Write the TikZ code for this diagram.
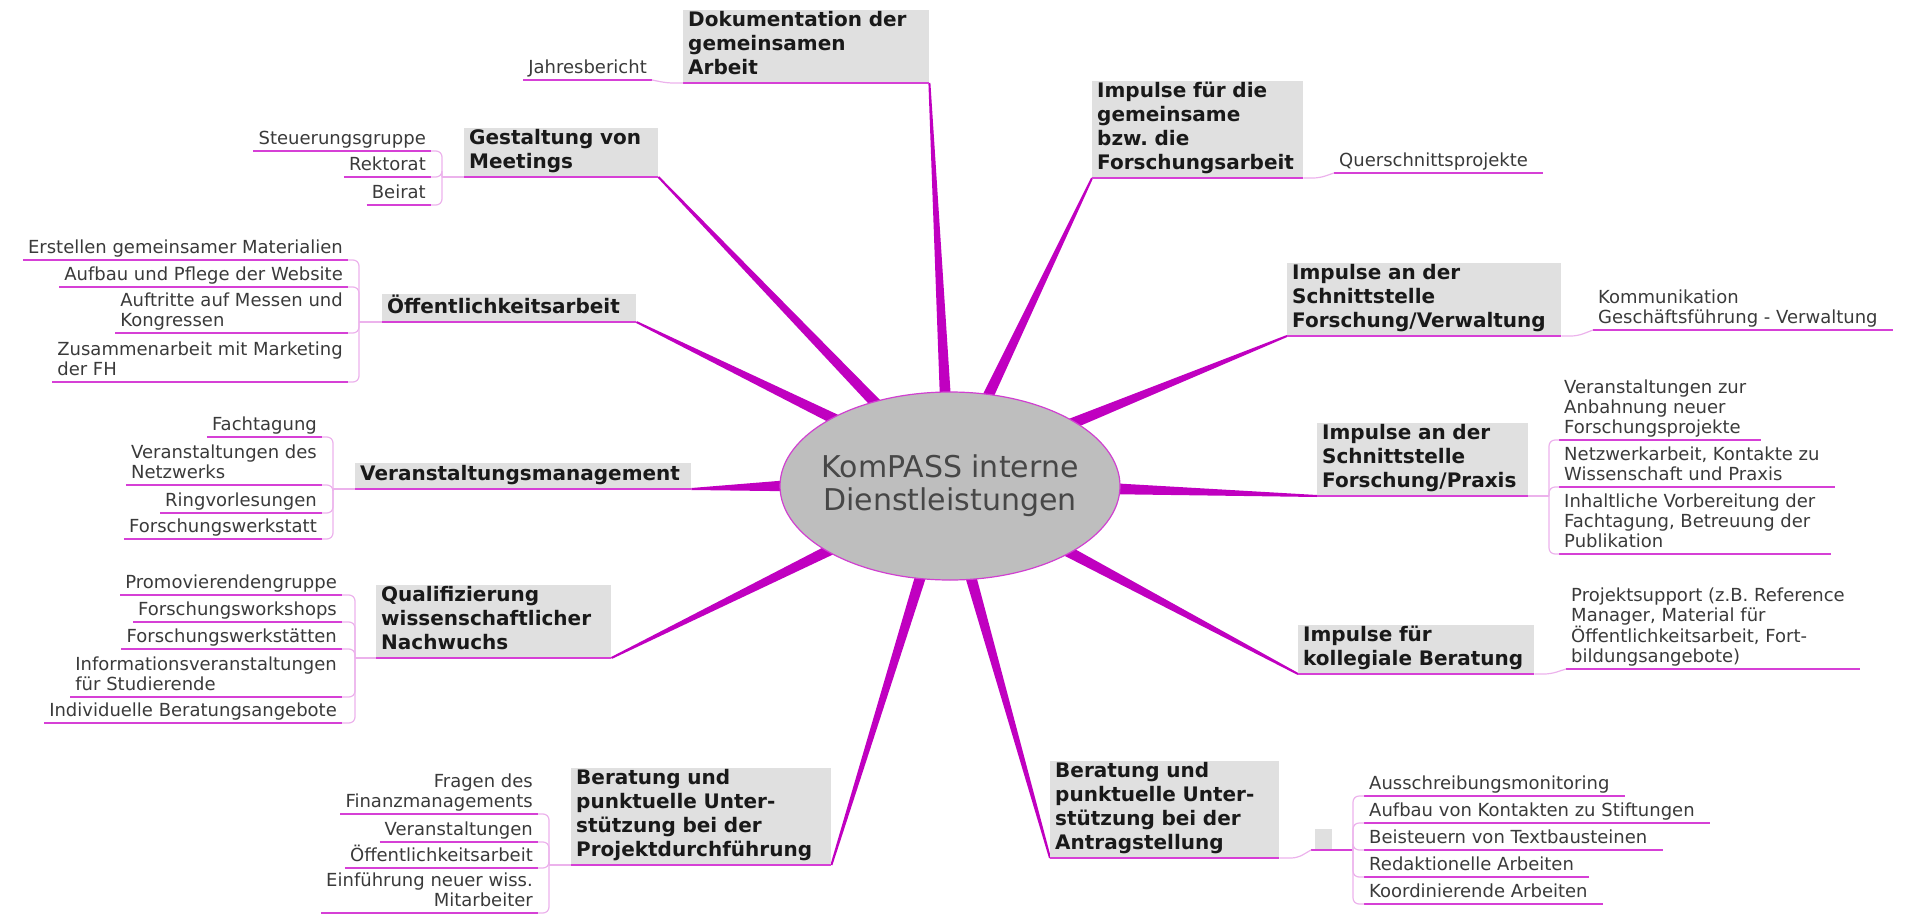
\documentclass[tikz,border=0pt]{standalone}
\usepackage{fontspec}
\setmainfont{DejaVu Sans}
\usetikzlibrary{shapes.geometric,calc,backgrounds}
\frenchspacing

\definecolor{branchmag}{RGB}{192,0,192}
\definecolor{linemag}{RGB}{214,64,214}
\definecolor{linkpink}{RGB}{236,178,236}
\definecolor{topicgray}{RGB}{224,224,224}
\definecolor{hubgray}{RGB}{190,190,190}
\definecolor{itemgray}{RGB}{58,58,58}

\tikzset{
  hub/.style={ellipse, draw=branchmag!75, line width=1.2pt, fill=hubgray,
    minimum width=340pt, minimum height=188pt, inner xsep=-10pt, inner ysep=0pt,
    align=center, text=black!72, font=\fontsize{30}{33}\selectfont},
  topic/.style={anchor=south west, fill=topicgray, align=left,
    inner xsep=5pt, inner ysep=1pt, text=black!90,
    font=\bfseries\fontsize{20}{24}\selectfont, execute at end node=\strut,
    append after command={(\tikzlastnode.south west) edge[topicline] (\tikzlastnode.south east)}},
  topicline/.style={draw=linemag, line width=2pt},
  item/.style={align=left, inner xsep=5pt, inner ysep=0pt, text=itemgray,
    font=\fontsize{18}{20}\selectfont, execute at end node=\strut},
  litem/.style={item, anchor=south east,
    append after command={(\tikzlastnode.south west) edge[itemline] (\tikzlastnode.south east)}},
  ritem/.style={item, anchor=south west,
    append after command={(\tikzlastnode.south west) edge[itemline] ([xshift=10pt]\tikzlastnode.south east)}},
  itemline/.style={draw=linemag, line width=1.5pt},
  link/.style={draw=linkpink, line width=1.2pt, rounded corners=6pt},
  branch/.style={fill=branchmag},
  emptytopic/.style={anchor=south west, fill=topicgray, minimum width=17pt,
    minimum height=21pt, inner sep=0pt}
}

\begin{document}
\begin{tikzpicture}[x=1pt,y=-1pt]
  \useasboundingbox (0,0) rectangle (1910,915);
  %% centre
  \node[hub] (hub) at (950,486) {KomPASS interne\\Dienstleistungen};
  %% main topics
  \node[topic,text width=236pt] (dok) at (683,83) {Dokumentation der\\gemeinsamen\\Arbeit};
  \node[topic,text width=184pt] (mtg) at (464,177) {Gestaltung von\\Meetings};
  \node[topic,text width=244pt] (oeff) at (382,322) {Öffentlichkeitsarbeit};
  \node[topic,text width=326pt] (vm) at (355,489) {Veranstaltungsmanagement};
  \node[topic,text width=225pt] (qual) at (376,658) {Qualifizierung\\wissenschaftlicher\\Nachwuchs};
  \node[topic,text width=250pt] (proj) at (571,865) {Beratung und\\punktuelle Unter-\\stützung bei der\\Projektdurchführung};
  \node[topic,text width=219pt] (antr) at (1050,858) {Beratung und\\punktuelle Unter-\\stützung bei der\\Antragstellung};
  \node[topic,text width=226pt] (koll) at (1298,674) {Impulse für\\kollegiale Beratung};
  \node[topic,text width=201pt] (prax) at (1317,496) {Impulse an der\\Schnittstelle\\Forschung/Praxis};
  \node[topic,text width=264pt] (verw) at (1287,336) {Impulse an der\\Schnittstelle\\Forschung/Verwaltung};
  \node[topic,text width=201pt] (imp) at (1092,178) {Impulse für die\\gemeinsame\\bzw. die\\Forschungsarbeit};
  %% branches
  \begin{scope}[on background layer]
    \foreach \t/\a/\c in {dok/93/south east, mtg/132/south east, oeff/150/south east,
        vm/180/south east, qual/208/south east, proj/252/south east, antr/283/south west,
        koll/331/south west, prax/359/south west, verw/27/south west, imp/67/south west} {
      \coordinate (p) at ($(hub.\a)!-8pt!(\t.\c)$);
      \fill[branch] ($(p)!5.5pt!90:(\t.\c)$) -- ($(\t.\c)!1pt!-90:(p)$)
        -- ($(\t.\c)!1pt!90:(p)$) -- ($(p)!5.5pt!-90:(\t.\c)$) -- cycle;
    }
  \end{scope}
  %% Dokumentation
  \node[litem] (dok1) at (652,80) {Jahresbericht};
  \draw[link] (dok.south west) -- ++(-16,0) -- (dok1.south east);
  %% Meetings
  \coordinate (jm) at (442,177);
  \node[litem] (mtg1) at (431,151) {Steuerungsgruppe};
  \node[litem] (mtg2) at (431,177) {Rektorat};
  \node[litem] (mtg3) at (431,205) {Beirat};
  \draw[link] (mtg.south west) -- (jm);
  \foreach \i in {1,2,3} \draw[link] (jm) |- (mtg\i.south east);
  %% Oeffentlichkeitsarbeit
  \coordinate (jo) at (359,322);
  \node[litem] (oeff1) at (348,260) {Erstellen gemeinsamer Materialien};
  \node[litem] (oeff2) at (348,287) {Aufbau und Pflege der Website};
  \node[litem] (oeff3) at (348,333) {Auftritte auf Messen und\\Kongressen};
  \node[litem] (oeff4) at (348,382) {Zusammenarbeit mit Marketing\\der FH};
  \draw[link] (oeff.south west) -- (jo);
  \foreach \i in {1,...,4} \draw[link] (jo) |- (oeff\i.south east);
  %% Veranstaltungsmanagement
  \coordinate (jv) at (333,489);
  \node[litem] (vm1) at (322,437) {Fachtagung};
  \node[litem] (vm2) at (322,485) {Veranstaltungen des\\Netzwerks};
  \node[litem] (vm3) at (322,513) {Ringvorlesungen};
  \node[litem] (vm4) at (322,539) {Forschungswerkstatt};
  \draw[link] (vm.south west) -- (jv);
  \foreach \i in {1,...,4} \draw[link] (jv) |- (vm\i.south east);
  %% Qualifizierung
  \coordinate (jq) at (355,658);
  \node[litem] (qual1) at (342,595) {Promovierendengruppe};
  \node[litem] (qual2) at (342,622) {Forschungsworkshops};
  \node[litem] (qual3) at (342,649) {Forschungswerkstätten};
  \node[litem] (qual4) at (342,697) {Informationsveranstaltungen\\für Studierende};
  \node[litem] (qual5) at (342,723) {Individuelle Beratungsangebote};
  \draw[link] (qual.south west) -- (jq);
  \foreach \i in {1,...,5} \draw[link] (jq) |- (qual\i.south east);
  %% Projektdurchfuehrung
  \coordinate (jp) at (549,865);
  \node[litem,align=right] (proj1) at (538,814) {Fragen des\\Finanzmanagements};
  \node[litem] (proj2) at (538,842) {Veranstaltungen};
  \node[litem] (proj3) at (538,868) {Öffentlichkeitsarbeit};
  \node[litem,align=right] (proj4) at (538,913) {Einführung neuer wiss.\\Mitarbeiter};
  \draw[link] (proj.south west) -- (jp);
  \foreach \i in {1,...,4} \draw[link] (jp) |- (proj\i.south east);
  %% Forschungsarbeit
  \node[ritem] (imp1) at (1334,173) {Querschnittsprojekte};
  \draw[link] (imp.south east) -- ++(16,0) -- (imp1.south west);
  %% Forschung/Verwaltung
  \node[ritem] (verw1) at (1593,330) {Kommunikation\\Geschäftsführung - Verwaltung};
  \draw[link] (verw.south east) -- ++(16,0) -- (verw1.south west);
  %% Forschung/Praxis
  \coordinate (jx) at (1549,496);
  \node[ritem] (prax1) at (1559,440) {Veranstaltungen zur\\Anbahnung neuer\\Forschungsprojekte};
  \node[ritem] (prax2) at (1559,487) {Netzwerkarbeit, Kontakte zu\\Wissenschaft und Praxis};
  \node[ritem] (prax3) at (1559,554) {Inhaltliche Vorbereitung der\\Fachtagung, Betreuung der\\Publikation};
  \draw[link] (prax.south east) -- (jx);
  \foreach \i in {1,2,3} \draw[link] (jx) |- (prax\i.south west);
  %% kollegiale Beratung
  \node[ritem] (koll1) at (1566,669) {Projektsupport (z.B. Reference\\Manager, Material für\\Öffentlichkeitsarbeit, Fort-\\bildungsangebote)};
  \draw[link] (koll.south east) -- ++(16,0) -- (koll1.south west);
  %% Antragstellung
  \node[emptytopic] (emp) at (1315,850) {};
  \coordinate (ja) at (1353,850);
  \draw[itemline] ([xshift=-4pt]emp.south west) -- (ja);
  \draw[link] (antr.south east) -- ++(18,0) -- ([xshift=-4pt]emp.south west);
  \node[ritem] (antr1) at (1364,796) {Ausschreibungsmonitoring};
  \node[ritem] (antr2) at (1364,823) {Aufbau von Kontakten zu Stiftungen};
  \node[ritem] (antr3) at (1364,850) {Beisteuern von Textbausteinen};
  \node[ritem] (antr4) at (1364,877) {Redaktionelle Arbeiten};
  \node[ritem] (antr5) at (1364,904) {Koordinierende Arbeiten};
  \foreach \i in {1,...,5} \draw[link] (ja) |- (antr\i.south west);
\end{tikzpicture}
\end{document}
